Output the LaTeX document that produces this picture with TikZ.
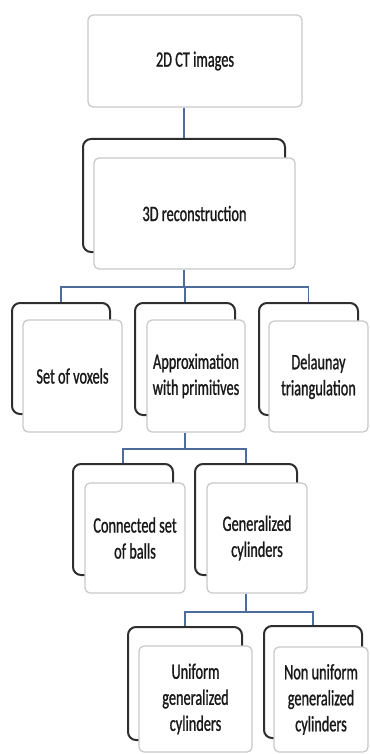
\documentclass[tikz,border=0pt]{standalone}
\usepackage{fontspec}
\newfontfamily\diagfont[FakeStretch=0.65,FakeBold=1]{Carlito}
\definecolor{framedark}{HTML}{2E2E2E}
\definecolor{framelight}{HTML}{C8C8C8}
\definecolor{linkblue}{HTML}{4D6C9C}

\begin{document}
\begin{tikzpicture}[x=1pt,y=-1pt,
  backbox/.style={draw=framedark,line width=2pt,rounded corners=8pt,inner sep=0pt},
  frontbox/.style={draw=framelight,fill=white,line width=1.2pt,rounded corners=5pt,inner sep=0pt,
    align=center,text=black!90,font=\diagfont\fontsize{22}{26}\selectfont},
  link/.style={draw=linkblue,line width=1.2pt}]
\useasboundingbox (0,0) rectangle (369,754);
% level 1
\node[frontbox,minimum width=214pt,minimum height=92pt] (ctimg) at (195,61) {2D CT images};
% level 2
\node[backbox,minimum width=202pt,minimum height=113pt] (recdark) at (184,195.5) {};
\node[frontbox,minimum width=201pt,minimum height=111pt] (recfront) at (194.5,213.5) {3D reconstruction};
% level 3
\node[backbox,minimum width=98pt,minimum height=111pt] (voxdark) at (61,358.5) {};
\node[frontbox,minimum width=99pt,minimum height=112pt] (voxfront) at (72.5,376) {Set of voxels};
\node[backbox,minimum width=100pt,minimum height=112pt] (appdark) at (185,359) {};
\node[frontbox,minimum width=98pt,minimum height=112pt] (appfront) at (196,376) {Approximation\\with primitives};
\node[backbox,minimum width=99pt,minimum height=112pt] (deldark) at (308.5,359) {};
\node[frontbox,minimum width=99pt,minimum height=111pt] (delfront) at (318.5,376.5) {Delaunay\\triangulation};
% level 4
\node[backbox,minimum width=100pt,minimum height=111pt] (balldark) at (123,519.5) {};
\node[frontbox,minimum width=100pt,minimum height=110pt] (ballfront) at (135,538) {Connected set\\of balls};
\node[backbox,minimum width=102pt,minimum height=111pt] (cyldark) at (246,519.5) {};
\node[frontbox,minimum width=100pt,minimum height=110pt] (cylfront) at (257,538) {Generalized\\cylinders};
% level 5
\node[backbox,minimum width=114pt,minimum height=113pt] (unidark) at (185,683.5) {};
\node[frontbox,minimum width=113pt,minimum height=106pt] (unifront) at (195.5,699) {Uniform\\generalized\\cylinders};
\node[backbox,minimum width=98pt,minimum height=112pt] (nondark) at (313,682) {};
\node[frontbox,minimum width=94pt,minimum height=105pt] (nonfront) at (321,699.5) {Non uniform\\generalized\\cylinders};
% connectors
\coordinate (busa) at (0,287);
\coordinate (busb) at (0,449);
\coordinate (busc) at (0,612);
\draw[link] (recdark.north |- ctimg.south) -- (recdark.north);
\draw[link] (recdark |- recfront.south) -- (recdark |- busa) -| (voxdark.north);
\draw[link] (recdark |- busa) -| (appdark.north);
\draw[link] (recdark |- busa) -| (deldark.north);
\draw[link] (appdark |- appfront.south) -- (appdark |- busb) -| (balldark.north);
\draw[link] (appdark |- busb) -| (cyldark.north);
\draw[link] (cyldark |- cylfront.south) -- (cyldark |- busc) -| (unidark.north);
\draw[link] (cyldark |- busc) -| (nondark.north);
\end{tikzpicture}
\end{document}
